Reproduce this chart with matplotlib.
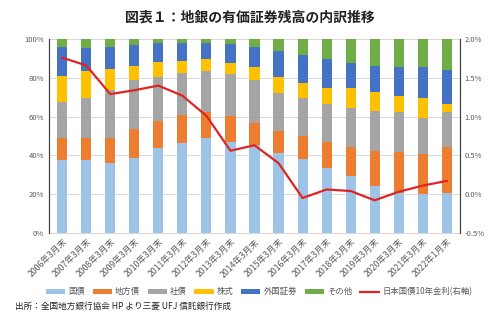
import matplotlib.pyplot as plt
import numpy as np

plt.rcParams['font.family'] = ['Noto Sans CJK JP', 'DejaVu Sans']

# 年度ラベル
years = [f'{y}年3月末' for y in range(2006, 2022)] + ['2022年1月末']

# 構成比 (%)
kokusai = [37.6, 37.6, 35.9, 38.8, 43.6, 46.2, 48.8, 47.1, 45.4, 41.1, 38.0, 33.7, 29.5, 24.2, 20.4, 19.9, 20.8]
chihousai = [11.2, 11.5, 13.2, 14.8, 14.3, 14.6, 13.7, 13.2, 11.5, 11.6, 12.0, 13.4, 15.0, 18.1, 21.5, 20.8, 23.7]
shasai = [18.9, 20.6, 24.6, 25.3, 22.3, 21.5, 21.2, 21.5, 22.0, 19.3, 19.4, 19.2, 19.8, 20.6, 20.6, 18.4, 18.0]
kabushiki = [13.2, 13.8, 10.7, 7.4, 7.8, 6.4, 5.8, 6.0, 6.8, 8.6, 8.1, 8.6, 10.6, 9.9, 8.3, 10.3, 4.0]
gaikoku = [14.8, 12.0, 11.6, 10.6, 9.8, 9.1, 8.3, 9.5, 10.3, 13.4, 14.3, 14.6, 12.9, 13.3, 14.9, 16.3, 17.5]
sonota = [4.3, 4.5, 4.0, 3.1, 2.2, 2.2, 2.2, 2.7, 4.0, 6.0, 8.2, 10.5, 12.2, 13.9, 14.3, 14.3, 16.0]

# 日本国債10年金利 (%)
jgb10 = [1.76, 1.66, 1.29, 1.34, 1.40, 1.27, 1.01, 0.56, 0.63, 0.40, -0.05, 0.06, 0.04, -0.08, 0.03, 0.11, 0.17]

series = [
    ('国債', kokusai, '#9DC3E6'),
    ('地方債', chihousai, '#ED7D31'),
    ('社債', shasai, '#A5A5A5'),
    ('株式', kabushiki, '#FFC000'),
    ('外国証券', gaikoku, '#4472C4'),
    ('その他', sonota, '#70AD47'),
]

fig = plt.figure(figsize=(5, 3.23), dpi=100)
ax = fig.add_axes([0.098, 0.279, 0.822, 0.600])
x = np.arange(len(years))

bottom = np.zeros(len(years))
handles = []
for name, vals, col in series:
    b = ax.bar(x, vals, 0.42, bottom=bottom, color=col, label=name, zorder=2)
    bottom += np.array(vals)
    handles.append(b)

ax.set_ylim(0, 100)
ax.set_xlim(-0.55, len(years) - 0.45)
ax.set_yticks(range(0, 101, 20))
ax.set_yticklabels([f'{v}%' for v in range(0, 101, 20)])
ax.yaxis.grid(True, color='#D9D9D9', lw=0.7, zorder=0)
ax.set_xticks(x)
ax.set_xticklabels(years, rotation=45, ha='right', rotation_mode='anchor')
ax.tick_params(axis='both', length=0, labelsize=5.5, colors='#595959')
ax.tick_params(axis='x', pad=3, labelsize=6.3)
for s in ['left', 'right', 'top']:
    ax.spines[s].set_color('#404040')
    ax.spines[s].set_linewidth(0.8)
ax.spines['top'].set_visible(False)
ax.spines['bottom'].set_color('#D9D9D9')

ax2 = ax.twinx()
line, = ax2.plot(x, jgb10, color='#E02424', lw=1.6, label='日本国債10年金利(右軸)', zorder=3)
ax2.set_ylim(-0.5, 2.0)
ax2.set_yticks(np.arange(-0.5, 2.01, 0.5))
ax2.set_yticklabels([f'{v:.1f}%' for v in np.arange(-0.5, 2.01, 0.5)])
ax2.tick_params(axis='y', length=0, labelsize=5.5, colors='#595959')
for s in ['left', 'right']:
    ax2.spines[s].set_color('#404040')
    ax2.spines[s].set_linewidth(0.8)
ax2.spines['top'].set_visible(False)
ax2.spines['bottom'].set_visible(False)

fig.legend(handles + [line], [h.get_label() for h in handles] + [line.get_label()],
           loc='center', bbox_to_anchor=(0.518, 0.097), ncol=7, frameon=False,
           fontsize=6, handlelength=2.3, handleheight=0.5, columnspacing=0.9,
           handletextpad=0.4, labelcolor='#595959')

fig.text(0.5, 0.945, '図表１：地銀の有価証券残高の内訳推移', ha='center', va='center',
         fontsize=10, fontweight='bold', color='#222222')
fig.text(0.03, 0.05, '出所：全国地方銀行協会 HP より三菱 UFJ 信託銀行作成', ha='left', va='center',
         fontsize=6.2, color='#222222')

fig.savefig('out.png', dpi=100)
